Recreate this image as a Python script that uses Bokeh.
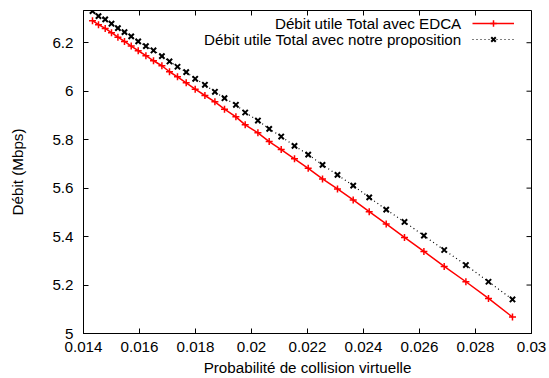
import math
from bokeh.plotting import figure
from bokeh.models import (Range1d, FixedTicker, CustomJSTickFormatter, Legend,
                          LegendItem, Label)
from bokeh.embed import file_html
from bokeh.resources import INLINE

# ---- data ----
proba = [0.014321, 0.014536, 0.014775, 0.015000, 0.015229, 0.015464, 0.015704,
         0.015954, 0.016229, 0.016500, 0.016800, 0.017071, 0.017357, 0.017668,
         0.017989, 0.018336, 0.018693, 0.019036, 0.019443, 0.019775, 0.020229,
         0.020632, 0.021061, 0.021536, 0.022025, 0.022536, 0.023071, 0.023632,
         0.024204, 0.024811, 0.025464, 0.026157, 0.026882, 0.027657, 0.028464,
         0.029321]
debit_edca = [6.2909, 6.2744, 6.2591, 6.2413, 6.2231, 6.2054, 6.1860, 6.1669,
              6.1463, 6.1256, 6.1050, 6.0802, 6.0595, 6.0347, 6.0083, 5.9822,
              5.9562, 5.9256, 5.8942, 5.8610, 5.8281, 5.7921, 5.7591, 5.7207,
              5.6818, 5.6380, 5.5967, 5.5512, 5.5029, 5.4521, 5.3967, 5.3388,
              5.2769, 5.2136, 5.1446, 5.0678]
debit_prop = [6.3306, 6.3099, 6.2963, 6.2785, 6.2603, 6.2438, 6.2260, 6.2054,
              6.1860, 6.1682, 6.1446, 6.1227, 6.1008, 6.0785, 6.0512, 6.0264,
              5.9975, 5.9711, 5.9438, 5.9120, 5.8789, 5.8446, 5.8128, 5.7744,
              5.7384, 5.6959, 5.6545, 5.6103, 5.5620, 5.5112, 5.4603, 5.4037,
              5.3446, 5.2826, 5.2136, 5.1405]

x_ticks = [0.014, 0.016, 0.018, 0.02, 0.022, 0.024, 0.026, 0.028, 0.03]
x_tick_labels = ["0.014", "0.016", "0.018", "0.02", "0.022", "0.024", "0.026", "0.028", "0.03"]
y_ticks = [5.0, 5.2, 5.4, 5.6, 5.8, 6.0, 6.2]
y_tick_labels = ["5", "5.2", "5.4", "5.6", "5.8", "6", "6.2"]

series_names = ["Débit utile Total avec EDCA", "Débit utile Total avec notre proposition"]
x_title = "Probabilité de collision virtuelle"
y_title = "Débit (Mbps)"

FONT = "Liberation Sans"
FS = "15.2px"

p = figure(width=549, height=378, output_backend="svg", toolbar_location=None,
           x_range=Range1d(0.014, 0.03), y_range=Range1d(5.0, 6.333),
           min_border_left=83, min_border_right=18, min_border_top=10,
           min_border_bottom=45)
p.grid.visible = False
p.outline_line_color = "black"
p.outline_line_width = 1
p.background_fill_color = "white"


def fmt(tv, tl):
    return CustomJSTickFormatter(args=dict(tv=tv, tl=tl), code="""
        for (let i = 0; i < tv.length; i++) {
            if (Math.abs(tv[i] - tick) < 1e-9) return tl[i];
        }
        return '';
    """)


def style_axis(ax):
    ax.axis_line_color = "black"
    ax.major_tick_in = 5
    ax.major_tick_out = 0
    ax.major_tick_line_color = "black"
    ax.minor_tick_line_color = None
    ax.major_label_text_font = FONT
    ax.major_label_text_color = "black"
    ax.major_label_text_font_size = FS
    ax.axis_label_text_font = FONT
    ax.axis_label_text_font_size = FS
    ax.axis_label_text_font_style = "normal"
    ax.axis_label_text_color = "black"


xa = p.xaxis[0]
xa.ticker = FixedTicker(ticks=x_ticks)
xa.formatter = fmt(x_ticks, x_tick_labels)
style_axis(xa)
xa.major_label_standoff = 8
xa.axis_label = x_title
xa.axis_label_standoff = 4

ya = p.yaxis[0]
ya.ticker = FixedTicker(ticks=y_ticks)
ya.formatter = fmt(y_ticks, y_tick_labels)
style_axis(ya)
ya.major_label_standoff = 10
ya.axis_label = y_title
ya.axis_label_standoff = 23

# mirrored tick marks on the top and right borders (gnuplot style); the half
# outside the frame is clipped away
y_top = [p.y_range.end] * len(x_ticks)
x_right = [p.x_range.end] * len(y_ticks)
p.scatter(x_ticks, y_top, marker="dash", angle=math.pi / 2, size=10,
          line_color="black", line_width=1)
p.scatter(x_right, y_ticks, marker="dash", size=10, line_color="black", line_width=1)

# series
r1l = p.line(proba, debit_edca, line_color="#ff0000", line_width=1.5)
r1m = p.scatter(proba, debit_edca, marker="cross", size=7, line_color="#ff0000",
                line_width=1.5)
r2l = p.line(proba, debit_prop, line_color="black", line_width=1.2, line_dash="1 3")
r2m = p.scatter(proba, debit_prop, marker="x", size=7.5, line_color="black",
                line_width=2)

# gnuplot-like key: samples on the right (library legend), texts right-aligned
# to their left
legend = Legend(items=[LegendItem(label=" ", renderers=[r1l, r1m]),
                       LegendItem(label=" ", renderers=[r2l, r2m])],
                location=(389, 286), glyph_width=42, glyph_height=16,
                label_width=0, label_standoff=0, label_height=12,
                label_text_font=FONT, label_text_font_size="11px",
                padding=0, spacing=0, margin=0,
                border_line_alpha=0, background_fill_alpha=0)
p.add_layout(legend, "center")

for name, yy in zip(series_names, [310, 294]):
    p.add_layout(Label(x=378, y=yy, x_units="screen", y_units="screen", text=name,
                       text_align="right", text_baseline="middle",
                       text_font=FONT, text_font_size=FS, text_color="black"))

open("out.html", "w").write(file_html(p, INLINE))
